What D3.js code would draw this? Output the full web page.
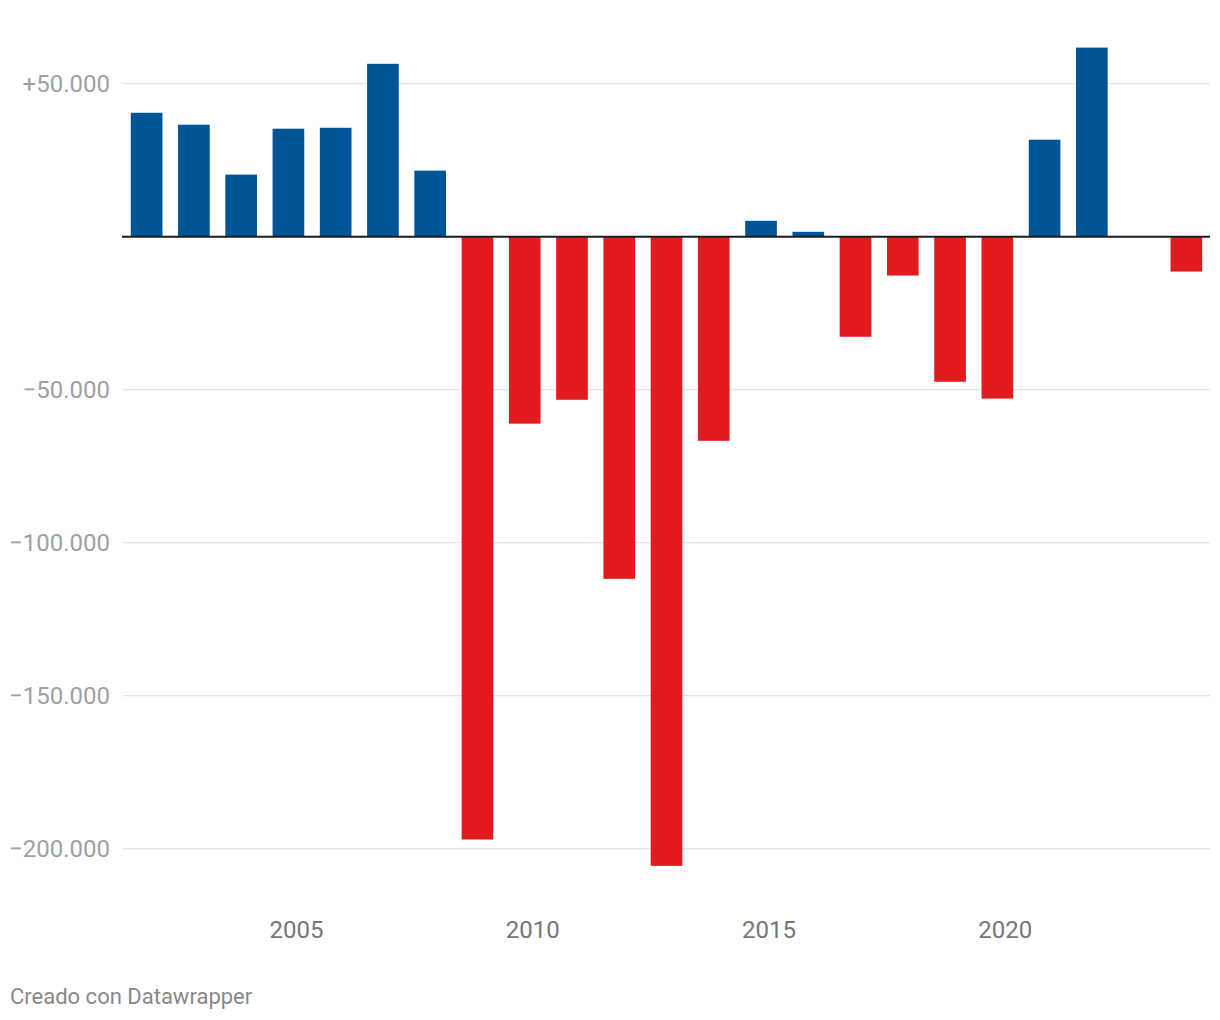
<!DOCTYPE html>
<html><head><meta charset="utf-8">
<script src="https://cdn.jsdelivr.net/npm/d3@7"></script>
<style>body{margin:0;background:#fff;font-family:Roboto,sans-serif;}</style>
</head><body>
<svg id="c" width="1220" height="1020"></svg>
<script>
const years = [2002,2003,2004,2005,2006,2007,2008,2009,2010,2011,2012,2013,2014,2015,2016,2017,2018,2019,2020,2021,2022,2023,2024];
const values = [40500,36600,20300,35300,35600,56500,21600,-197000,-61100,-53300,-111800,-205600,-66700,5200,1600,-32700,-12700,-47400,-52900,31700,61800,0,-11400];
const yTicks = [50000,0,-50000,-100000,-150000,-200000];
const xTickYears = [2005,2010,2015,2020];
const posColor = "#005596", negColor = "#e11b1e";

const svg = d3.select("#c");
const x = d3.scaleBand().domain(years).range([123,1210]).paddingInner(0.33).paddingOuter(0.165);
const y = d3.scaleLinear().domain([0,50000]).range([236.7,83.7]);

const fmt = v => v===0 ? "" : (v>0?"+":"\u2212") + d3.format(",")(Math.abs(v)).replace(/,/g,".");

// grid
svg.append("g").selectAll("line").data(yTicks.filter(d=>d!==0)).join("line")
  .attr("x1",123).attr("x2",1210).attr("y1",d=>y(d)).attr("y2",d=>y(d))
  .attr("stroke","#e4e4e4").attr("stroke-width",1.3);
svg.append("g").selectAll("text").data(yTicks.filter(d=>d!==0)).join("text")
  .attr("x",110).attr("y",d=>y(d)).attr("dy","0.36em").attr("text-anchor","end")
  .attr("font-size",24).attr("fill","#a0a0a0").text(fmt);

// bars
svg.append("g").selectAll("rect").data(years.map((yr,i)=>({yr,v:values[i]}))).join("rect")
  .attr("x",d=>x(d.yr)).attr("width",x.bandwidth())
  .attr("y",d=>Math.min(y(d.v),y(0))).attr("height",d=>Math.abs(y(d.v)-y(0)))
  .attr("fill",d=>d.v>=0?posColor:negColor);

// zero line
svg.append("line").attr("x1",122).attr("x2",1210).attr("y1",y(0)).attr("y2",y(0))
  .attr("stroke","#1d1d1d").attr("stroke-width",2);

// x labels
svg.append("g").selectAll("text").data(xTickYears).join("text")
  .attr("x",d=>x(d)+x.bandwidth()/2+8).attr("y",938).attr("text-anchor","middle")
  .attr("font-size",24).attr("fill","#777").text(d=>d);

svg.append("text").attr("x",10).attr("y",1004).attr("font-size",22).attr("fill","#888")
  .text("Creado con Datawrapper");
</script>
</body></html>
